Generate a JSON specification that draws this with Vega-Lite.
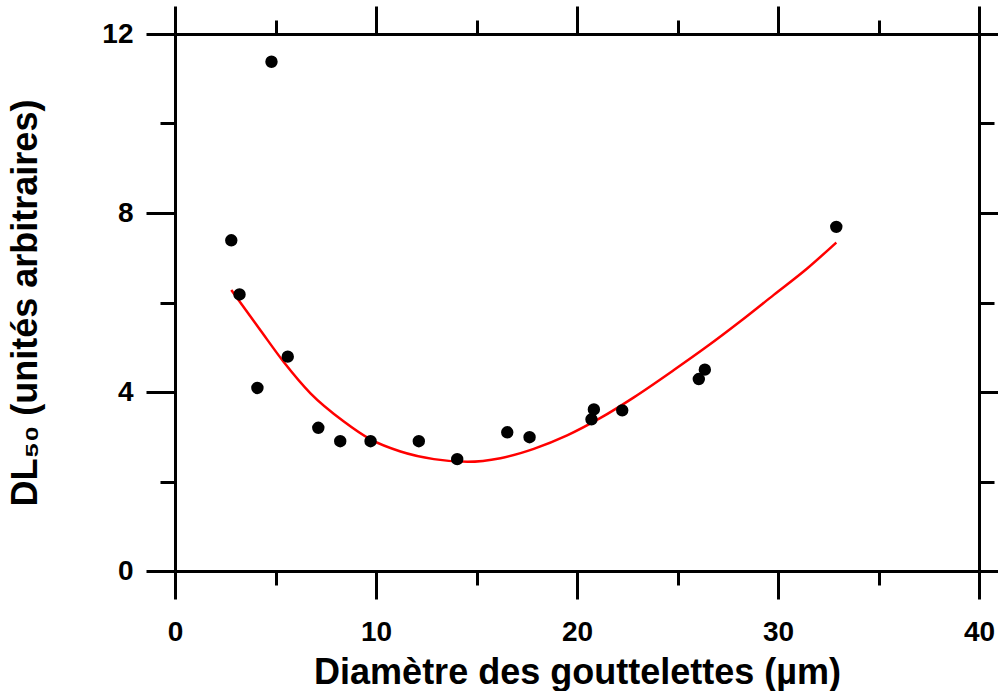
{
  "$schema": "https://vega.github.io/schema/vega-lite/v6.json",
  "width": 804,
  "height": 537,
  "autosize": {"type": "none"},
  "padding": {"left": 175, "top": 34, "right": 19, "bottom": 120},
  "background": "white",
  "config": {
    "view": {"stroke": null},
    "axis": {
      "grid": false,
      "domainColor": "black",
      "domainWidth": 3,
      "tickColor": "black",
      "tickWidth": 3,
      "labelFont": "Liberation Sans",
      "labelFontWeight": "bold",
      "labelFontSize": 28,
      "labelColor": "black",
      "titleFont": "Liberation Sans",
      "titleFontWeight": "bold",
      "titleFontSize": 36,
      "titleColor": "black",
      "labelFlush": false,
      "labelOverlap": false
    }
  },
  "datasets": {
    "pts": [
      {"diametre": 4.80, "dl50": 11.38},
      {"diametre": 2.80, "dl50": 7.39},
      {"diametre": 3.21, "dl50": 6.18},
      {"diametre": 4.10, "dl50": 4.09},
      {"diametre": 5.61, "dl50": 4.79},
      {"diametre": 7.13, "dl50": 3.20},
      {"diametre": 8.22, "dl50": 2.90},
      {"diametre": 9.73, "dl50": 2.90},
      {"diametre": 12.13, "dl50": 2.90},
      {"diametre": 14.04, "dl50": 2.50},
      {"diametre": 16.53, "dl50": 3.10},
      {"diametre": 17.64, "dl50": 2.99},
      {"diametre": 20.72, "dl50": 3.39},
      {"diametre": 20.84, "dl50": 3.61},
      {"diametre": 22.25, "dl50": 3.59},
      {"diametre": 26.06, "dl50": 4.29},
      {"diametre": 26.36, "dl50": 4.50},
      {"diametre": 32.90, "dl50": 7.69}
    ],
    "fit": [
      {"diametre": 2.80, "dl50": 6.28},
      {"diametre": 4.25, "dl50": 5.38},
      {"diametre": 5.41, "dl50": 4.67},
      {"diametre": 6.74, "dl50": 3.97},
      {"diametre": 8.40, "dl50": 3.34},
      {"diametre": 9.73, "dl50": 2.94},
      {"diametre": 11.22, "dl50": 2.67},
      {"diametre": 12.88, "dl50": 2.50},
      {"diametre": 14.54, "dl50": 2.44},
      {"diametre": 16.19, "dl50": 2.52},
      {"diametre": 17.85, "dl50": 2.73},
      {"diametre": 19.51, "dl50": 3.03},
      {"diametre": 21.17, "dl50": 3.42},
      {"diametre": 22.83, "dl50": 3.88},
      {"diametre": 24.82, "dl50": 4.49},
      {"diametre": 26.48, "dl50": 5.02},
      {"diametre": 28.13, "dl50": 5.58},
      {"diametre": 29.79, "dl50": 6.17},
      {"diametre": 31.45, "dl50": 6.76},
      {"diametre": 32.90, "dl50": 7.34}
    ]
  },
  "layer": [
    {
      "data": {"name": "fit"},
      "mark": {"type": "line", "color": "#ff0000", "strokeWidth": 2.5, "interpolate": "monotone"},
      "encoding": {
        "x": {
          "field": "diametre", "type": "quantitative",
          "scale": {"domain": [0, 40], "nice": false, "zero": false},
          "axis": {
            "orient": "top", "title": null, "labels": false,
            "values": [0, 5, 10, 15, 20, 25, 30, 35, 40],
            "tickSize": {"condition": {"test": "datum.value % 10 === 0", "value": 28}, "value": 14}
          }
        },
        "y": {
          "field": "dl50", "type": "quantitative",
          "scale": {"domain": [0, 12], "nice": false, "zero": false},
          "axis": {
            "orient": "right", "title": null, "labels": false,
            "values": [0, 2, 4, 6, 8, 10, 12],
            "tickSize": {"condition": {"test": "datum.value % 4 === 0", "value": 28}, "value": 15}
          }
        }
      }
    },
    {
      "data": {"name": "pts"},
      "mark": {"type": "circle", "color": "black", "opacity": 1, "size": 154},
      "encoding": {
        "x": {
          "field": "diametre", "type": "quantitative",
          "axis": {
            "orient": "bottom", "title": "Diamètre des gouttelettes (µm)",
            "values": [0, 5, 10, 15, 20, 25, 30, 35, 40],
            "labelExpr": "datum.value % 10 === 0 ? datum.label : ''",
            "labelPadding": 19,
            "titlePadding": 9,
            "tickSize": {"condition": {"test": "datum.value % 10 === 0", "value": 28}, "value": 14}
          }
        },
        "y": {
          "field": "dl50", "type": "quantitative",
          "axis": {
            "orient": "left", "title": "DL₅₀ (unités arbitraires)",
            "values": [0, 2, 4, 6, 8, 10, 12],
            "labelExpr": "datum.value % 4 === 0 ? datum.label : ''",
            "labelPadding": 13,
            "titlePadding": 57,
            "tickSize": {"condition": {"test": "datum.value % 4 === 0", "value": 29}, "value": 15}
          }
        }
      }
    }
  ],
  "resolve": {"axis": {"x": "independent", "y": "independent"}}
}
